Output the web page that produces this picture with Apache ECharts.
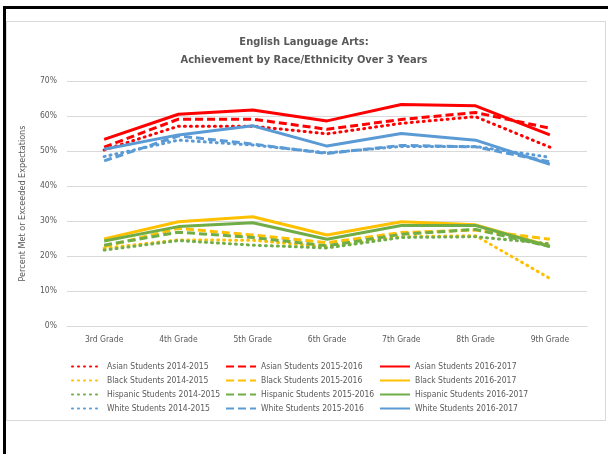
<!DOCTYPE html>
<html>
<head>
<meta charset="utf-8">
<script src="https://cdn.jsdelivr.net/npm/echarts@6/dist/echarts.min.js"></script>
<style>
  html, body { margin: 0; padding: 0; background: #fff; }
  #frame { position: absolute; left: 3px; top: 6px; width: 605px; height: 448px; border-top: 3px solid #000; border-left: 3px solid #000; box-sizing: border-box; }
  #box { position: absolute; left: 6px; top: 21px; width: 600px; height: 400px; border: 1px solid #d9d9d9; box-sizing: border-box; }
  #chart { position: absolute; left: 0; top: 0; width: 608px; height: 454px; }
</style>
</head>
<body>
<div id="frame"></div>
<div id="box"></div>
<div id="chart"></div>
<script>
const grades = ['3rd Grade', '4th Grade', '5th Grade', '6th Grade', '7th Grade', '8th Grade', '9th Grade']

// percent met or exceeded
const asian1415 = [50.3, 57.1, 57.1, 54.9, 57.9, 59.8, 51.1]
const asian1516 = [51.1, 59.1, 59.1, 56.2, 59.0, 61.0, 56.5]
const asian1617 = [53.3, 60.5, 61.7, 58.6, 63.3, 62.9, 54.6]
const black1415 = [22.2, 24.6, 24.5, 22.6, 25.5, 25.8, 13.6]
const black1516 = [22.7, 27.9, 26.0, 23.8, 26.7, 27.4, 24.8]
const black1617 = [24.9, 29.8, 31.2, 26.0, 29.8, 28.9, 22.9]
const hisp1415 = [21.7, 24.4, 23.1, 22.3, 25.3, 25.5, 23.5]
const hisp1516 = [23.1, 26.8, 25.3, 22.9, 26.2, 27.6, 22.7]
const hisp1617 = [24.3, 28.4, 29.5, 24.8, 28.7, 28.7, 22.7]
const white1415 = [48.4, 53.1, 51.7, 49.5, 51.3, 51.3, 48.2]
const white1516 = [47.2, 54.3, 52.0, 49.3, 51.6, 51.2, 46.9]
const white1617 = [50.5, 54.6, 57.2, 51.4, 55.0, 53.1, 46.2]

const FONT = '"DejaVu Sans Condensed", "Liberation Sans", sans-serif'
const TXT = '#595959'
const colors = { Asian: '#ff0000', Black: '#ffc000', Hispanic: '#70ad47', White: '#5b9bd5' }
const dashes = {
  '2014-2015': { type: [1, 5], cap: 'round' },
  '2015-2016': { type: [8, 4], cap: 'butt' },
  '2016-2017': { type: 'solid', cap: 'butt' }
}

const groups = [
  ['Asian', '2014-2015', asian1415], ['Asian', '2015-2016', asian1516], ['Asian', '2016-2017', asian1617],
  ['Black', '2014-2015', black1415], ['Black', '2015-2016', black1516], ['Black', '2016-2017', black1617],
  ['Hispanic', '2014-2015', hisp1415], ['Hispanic', '2015-2016', hisp1516], ['Hispanic', '2016-2017', hisp1617],
  ['White', '2014-2015', white1415], ['White', '2015-2016', white1516], ['White', '2016-2017', white1617]
]

const series = groups.map(([race, year, data]) => ({
  name: race + ' Students ' + year,
  type: 'line',
  data: data,
  symbol: 'none',
  color: colors[race],
  lineStyle: { width: 3, color: colors[race], type: dashes[year].type, cap: dashes[year].cap },
  emphasis: { disabled: true }
}))

const legendCol = (year, left) => ({
  orient: 'vertical',
  left: left,
  top: 357,
  itemWidth: 30,
  itemHeight: 10,
  itemGap: 5,
  selectedMode: false,
  itemStyle: { opacity: 0 },
  textStyle: { color: TXT, fontSize: 8.5, fontFamily: FONT },
  data: ['Asian', 'Black', 'Hispanic', 'White'].map(r => r + ' Students ' + year)
})

const chart = echarts.init(document.getElementById('chart'))
chart.setOption({
  animation: false,
  backgroundColor: 'transparent',
  title: {
    text: 'English Language Arts:\nAchievement by Race/Ethnicity Over 3 Years',
    left: 'center',
    top: 28,
    textStyle: { color: TXT, fontSize: 11, fontWeight: 'bold', fontFamily: FONT, lineHeight: 18 }
  },
  legend: [legendCol('2014-2015', 66), legendCol('2015-2016', 220), legendCol('2016-2017', 374)],
  grid: { left: 67, right: 21, top: 81, bottom: 128 },
  xAxis: {
    type: 'category',
    data: grades,
    boundaryGap: true,
    axisLine: { lineStyle: { color: '#d9d9d9', width: 1 } },
    axisTick: { show: false },
    axisLabel: { color: TXT, fontSize: 8.5, fontFamily: FONT, margin: 9 }
  },
  yAxis: {
    type: 'value',
    min: 0,
    max: 70,
    interval: 10,
    name: 'Percent Met or Exceeded Expectations',
    nameLocation: 'middle',
    nameGap: 40,
    nameTextStyle: { color: TXT, fontSize: 9, fontFamily: FONT },
    axisLabel: { color: TXT, fontSize: 8.5, fontFamily: FONT, margin: 10, formatter: '{value}%' },
    splitLine: { lineStyle: { color: '#d9d9d9', width: 1 } },
    axisLine: { show: false },
    axisTick: { show: false }
  },
  series: series
})
</script>
</body>
</html>
